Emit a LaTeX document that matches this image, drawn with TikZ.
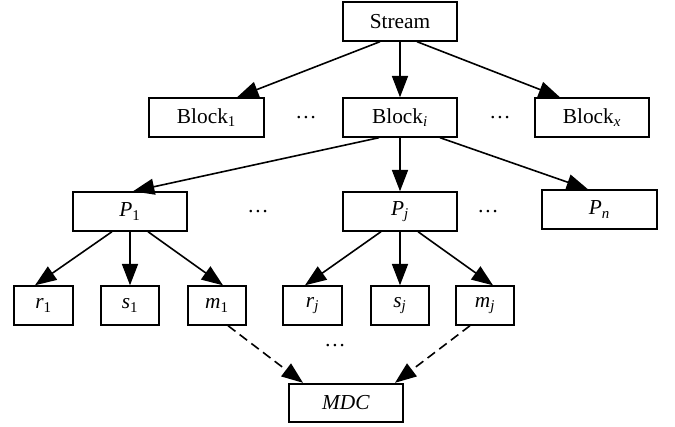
\documentclass[tikz,border=0pt]{standalone}
\usepackage{fontspec}
\setmainfont{Liberation Serif}
\usetikzlibrary{arrows.meta,calc}
\begin{document}
\begin{tikzpicture}[x=0.75pt,y=-0.75pt,
    font=\fontsize{16}{19}\selectfont,
    box/.style={draw, line width=1.3pt, minimum width=86pt, minimum height=29pt, inner sep=0pt},
    leaf/.style={box, minimum width=44pt},
    arr/.style={-{Triangle[length=16pt,width=12pt]}, line width=1.2pt},
    darr/.style={arr, dash pattern=on 7pt off 4pt}]
    \useasboundingbox (0,0) rectangle (675,427);
    % top levels
    \node at (400,21.5) [box] (S) {Stream};
    \node at (206.5,117.5) [box] (B1) {Block\textsubscript{1}};
    \node at (400,117.5) [box] (Bi) {Block\textsubscript{\textit{i}}};
    \node at (592,117.5) [box] (Bx) {Block\textsubscript{\textit{x}}};
    \node at (306,117.5) (d1) {\ldots};
    \node at (500,117.5) (d2) {\ldots};
    \node at (130,211.5) [box] (P1) {\textit{P}\textsubscript{1}};
    \node at (400,211.5) [box] (Pj) {\textit{P}\textsubscript{\textit{j}}};
    \node at (599.5,209.5) [box] (Pn) {\textit{P}\textsubscript{\textit{n}}};
    \node at (258,211.5) (d3) {\ldots};
    \node at (488,211.5) (d4) {\ldots};
    % leaves
    \node at (43.5,305.5) [leaf] (r1) {\textit{r}\textsubscript{1}};
    \node at (130,305.5) [leaf] (s1) {\textit{s}\textsubscript{1}};
    \node at (217,305.5) [leaf] (m1) {\textit{m}\textsubscript{1}};
    \node at (312.5,305.5) [leaf] (rj) {\textit{r}\textsubscript{\textit{j}}};
    \node at (400,305.5) [leaf] (sj) {\textit{s}\textsubscript{\textit{j}}};
    \node at (485,305.5) [leaf] (mj) {\textit{m}\textsubscript{\textit{j}}};
    \node at (335,346) (d5) {\ldots};
    \node at (346,403) [box] (M) {\textit{MDC}};
    % arrows
    \draw[arr] ($(S.south)+(-20,0)$) -- ($(B1.north)+(30.5,0)$);
    \draw[arr] (S) -- (Bi);
    \draw[arr] ($(S.south)+(17,0)$) -- ($(Bx.north)+(-32,0)$);
    \draw[arr] ($(Bi.south)+(-21,0)$) -- ($(P1.north)+(3,0)$);
    \draw[arr] (Bi) -- (Pj);
    \draw[arr] ($(Bi.south)+(40,0)$) -- ($(Pn.north)+(-11.5,0)$);
    \draw[arr] ($(P1.south)+(-18,0)$) -- ($(r1.north)+(-8.5,0)$);
    \draw[arr] (P1) -- (s1);
    \draw[arr] ($(P1.south)+(18,0)$) -- ($(m1.north)+(6,0)$);
    \draw[arr] ($(Pj.south)+(-19,0)$) -- ($(rj.north)+(-7.5,0)$);
    \draw[arr] (Pj) -- (sj);
    \draw[arr] ($(Pj.south)+(18,0)$) -- ($(mj.north)+(8,0)$);
    \draw[darr] ($(m1.south)+(11,0)$) -- ($(M.north)+(-43,0)$);
    \draw[darr] ($(mj.south)+(-15,0)$) -- ($(M.north)+(49,0)$);
\end{tikzpicture}
\end{document}
